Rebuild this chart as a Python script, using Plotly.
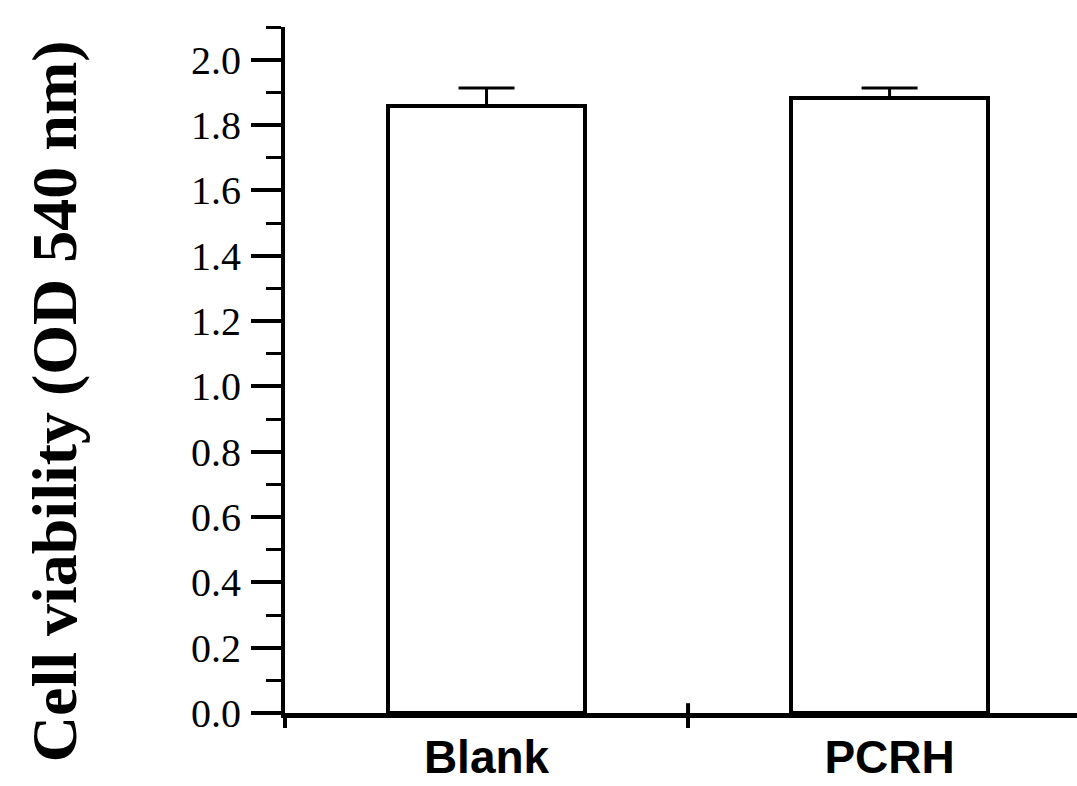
import plotly.graph_objects as go

categories = ["Blank", "PCRH"]
values = [1.858, 1.882]
errors = [0.055, 0.031]
y_tickvals = [0.0, 0.2, 0.4, 0.6, 0.8, 1.0, 1.2, 1.4, 1.6, 1.8, 2.0]
y_ticktext = ["0.0", "0.2", "0.4", "0.6", "0.8", "1.0", "1.2", "1.4", "1.6", "1.8", "2.0"]
y_title = "Cell viability (OD 540 nm)"

fig = go.Figure()
fig.add_trace(go.Bar(
    x=categories, y=values, width=0.49,
    marker=dict(color="white", line=dict(color="black", width=4)),
    error_y=dict(type="data", array=errors, arrayminus=[0, 0], symmetric=False,
                 color="black", thickness=3, width=28),
    showlegend=False,
))

fig.update_layout(
    width=1077, height=786,
    margin=dict(l=285, r=0, t=27, b=73),
    plot_bgcolor="white", paper_bgcolor="white",
    bargap=0,
    xaxis=dict(
        type="category",
        range=[-0.5, 1.465],
        tickson="boundaries", ticks="outside", ticklen=10, tickwidth=4, tickcolor="black",
        showline=True, linewidth=5, linecolor="black",
        showgrid=False, zeroline=False,
        tickfont=dict(family="Liberation Sans", size=46, color="black", weight="bold"),
    ),
    yaxis=dict(
        range=[0, 2.1],
        tickmode="array", tickvals=y_tickvals, ticktext=y_ticktext,
        ticks="outside", ticklen=30, tickwidth=4, tickcolor="black",
        minor=dict(dtick=0.1, tick0=0, ticks="outside", ticklen=15, tickwidth=3, tickcolor="black", showgrid=False),
        showline=True, linewidth=4, linecolor="black",
        showgrid=False, zeroline=False,
        tickfont=dict(family="Liberation Serif", size=40, color="black"),
        ticklabelstandoff=2,
    ),
)

# upward part of the middle x-axis tick
fig.add_shape(type="line", xref="x", yref="y", x0=0.5, x1=0.5, y0=0, y1=0.03,
              line=dict(color="black", width=4))

fig.add_annotation(
    text=y_title, textangle=-90, xref="paper", yref="paper",
    x=-0.29, y=0.455, xanchor="center", yanchor="middle", showarrow=False,
    font=dict(family="Liberation Serif", size=64, color="black", weight="bold"),
)

fig.write_html("out.html")
